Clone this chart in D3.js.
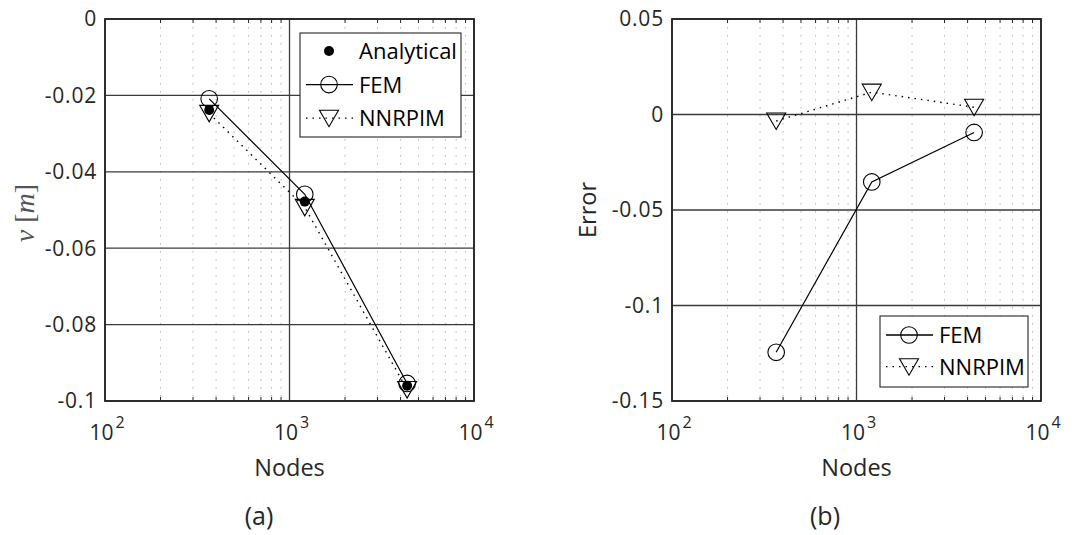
<!DOCTYPE html>
<html>
<head>
<meta charset="utf-8">
<script src="https://cdn.jsdelivr.net/npm/d3@7"></script>
<style>
  body { margin: 0; background: #fff; }
  svg { display: block; }
</style>
</head>
<body>
<div id="chart"></div>
<script>
const nodes = [367, 1210, 4340]
const analytical = [-0.0238, -0.0478, -0.0960]
const femDisp = [-0.0209, -0.0459, -0.0954]
const nnrpimDisp = [-0.0247, -0.0493, -0.0970]
const femError = [-0.1245, -0.0353, -0.0094]
const nnrpimError = [-0.0034, 0.0117, 0.0038]

const dispTicks = [0, -0.02, -0.04, -0.06, -0.08, -0.1]
const dispTickLabels = ["0", "-0.02", "-0.04", "-0.06", "-0.08", "-0.1"]
const errorTicks = [0.05, 0, -0.05, -0.1, -0.15]
const errorTickLabels = ["0.05", "0", "-0.05", "-0.1", "-0.15"]
const xTicks = [100, 1000, 10000]
const xTickExps = ["2", "3", "4"]

const W = 1080, H = 535
const ink = "#262626"
const font = "'Open Sans', sans-serif"

const svg = d3.select("#chart").append("svg")
  .attr("width", W)
  .attr("height", H)

function triangle(s, x, y) {
  s.append("path")
    .attr("d", `M${x - 9.5},${y - 8}L${x + 9.5},${y - 8}L${x},${y + 8.5}Z`)
    .attr("fill", "none")
    .attr("stroke", "#000")
    .attr("stroke-width", 1.1)
}

function circle(s, x, y) {
  s.append("circle")
    .attr("cx", x).attr("cy", y).attr("r", 8.3)
    .attr("fill", "none")
    .attr("stroke", "#000")
    .attr("stroke-width", 1.1)
}

function dot(s, x, y) {
  s.append("circle")
    .attr("cx", x).attr("cy", y).attr("r", 5)
    .attr("fill", "#000")
}

function drawPanel(opt) {
  const g = svg.append("g")
  const x = d3.scaleLog().domain([100, 10000]).range([opt.left, opt.right])
  const y = d3.scaleLinear().domain(opt.yDomain).range([opt.bottom, opt.top])

  // minor grid (dotted) and minor ticks
  const minors = []
  for (let d = 100; d < 10000; d *= 10) {
    for (let k = 2; k <= 9; k++) minors.push(d * k)
  }
  g.selectAll(".minor").data(minors).enter().append("line")
    .attr("x1", (d) => x(d)).attr("x2", (d) => x(d))
    .attr("y1", opt.top).attr("y2", opt.bottom)
    .attr("stroke", "#b4b4b4")
    .attr("stroke-width", 1)
    .attr("stroke-dasharray", "1.5,6.5")
  g.selectAll(".mtick-b").data(minors).enter().append("line")
    .attr("x1", (d) => x(d)).attr("x2", (d) => x(d))
    .attr("y1", opt.bottom).attr("y2", opt.bottom - 4)
    .attr("stroke", ink)
  g.selectAll(".mtick-t").data(minors).enter().append("line")
    .attr("x1", (d) => x(d)).attr("x2", (d) => x(d))
    .attr("y1", opt.top).attr("y2", opt.top + 4)
    .attr("stroke", ink)

  // major grid
  g.selectAll(".hgrid").data(opt.yTicks).enter().append("line")
    .attr("x1", opt.left).attr("x2", opt.right)
    .attr("y1", (d) => y(d)).attr("y2", (d) => y(d))
    .attr("stroke", "#3a3a3a")
    .attr("stroke-width", 1.3)
  g.selectAll(".vgrid").data(xTicks).enter().append("line")
    .attr("x1", (d) => x(d)).attr("x2", (d) => x(d))
    .attr("y1", opt.top).attr("y2", opt.bottom)
    .attr("stroke", "#3a3a3a")
    .attr("stroke-width", 1.3)

  // frame
  g.append("rect")
    .attr("x", opt.left).attr("y", opt.top)
    .attr("width", opt.right - opt.left)
    .attr("height", opt.bottom - opt.top)
    .attr("fill", "none")
    .attr("stroke", ink)
    .attr("stroke-width", 1.8)

  // y tick labels
  g.selectAll(".ylab").data(opt.yTicks).enter().append("text")
    .attr("x", opt.left - 8)
    .attr("y", (d) => y(d))
    .attr("dy", "0.35em")
    .attr("text-anchor", "end")
    .attr("font-family", font)
    .attr("font-size", 21)
    .attr("letter-spacing", 0.8)
    .attr("fill", ink)
    .text((d, i) => opt.yTickLabels[i])

  // x tick labels 10^n
  const xl = g.selectAll(".xlab").data(xTicks).enter().append("text")
    .attr("x", (d) => x(d) + 2)
    .attr("y", opt.bottom + 39)
    .attr("text-anchor", "middle")
    .attr("font-family", font)
    .attr("font-size", 21)
    .attr("fill", ink)
  xl.append("tspan").text("10")
  xl.append("tspan")
    .attr("dx", 2)
    .attr("dy", -12)
    .attr("font-size", 16)
    .text((d, i) => xTickExps[i])

  g.append("text")
    .attr("x", x(1000))
    .attr("y", opt.bottom + 75)
    .attr("text-anchor", "middle")
    .attr("font-family", font)
    .attr("font-size", 23.5)
    .attr("fill", ink)
    .text("Nodes")

  g.append("text")
    .attr("x", opt.captionX)
    .attr("y", 525)
    .attr("text-anchor", "middle")
    .attr("font-family", font)
    .attr("font-size", 25)
    .attr("fill", ink)
    .text(opt.caption)

  // series
  const solid = d3.line().x((d) => x(d[0])).y((d) => y(d[1]))
  const femPts = nodes.map((n, i) => [n, opt.fem[i]])
  const nnPts = nodes.map((n, i) => [n, opt.nnrpim[i]])

  g.append("path")
    .attr("d", solid(nnPts))
    .attr("fill", "none")
    .attr("stroke", "#000")
    .attr("stroke-width", 1.4)
    .attr("stroke-dasharray", "1.5,5")
  g.append("path")
    .attr("d", solid(femPts))
    .attr("fill", "none")
    .attr("stroke", "#000")
    .attr("stroke-width", 1.2)

  femPts.forEach((p) => circle(g, x(p[0]), y(p[1])))
  nnPts.forEach((p) => triangle(g, x(p[0]), y(p[1])))
  if (opt.analytical) {
    nodes.forEach((n, i) => dot(g, x(n), y(opt.analytical[i])))
  }

  return { g, x, y }
}

function drawLegend(items, box) {
  const g = svg.append("g")
  g.append("rect")
    .attr("x", box.x).attr("y", box.y)
    .attr("width", box.w).attr("height", box.h)
    .attr("fill", "#fff")
    .attr("stroke", ink)
    .attr("stroke-width", 1.1)
  items.forEach((it, i) => {
    const cy = box.y + box.first + i * box.step
    const mx = box.x + 29
    if (it.line) {
      g.append("line")
        .attr("x1", box.x + 6).attr("x2", box.x + 53)
        .attr("y1", cy).attr("y2", cy)
        .attr("stroke", "#000")
        .attr("stroke-width", 1.3)
        .attr("stroke-dasharray", it.line === "dot" ? "1.5,5" : null)
    }
    if (it.marker === "circle") circle(g, mx, cy)
    if (it.marker === "triangle") triangle(g, mx, cy)
    if (it.marker === "dot") dot(g, mx, cy)
    g.append("text")
      .attr("x", box.x + 59)
      .attr("y", cy)
      .attr("dy", "0.36em")
      .attr("font-family", font)
      .attr("font-size", 22)
      .attr("fill", "#000")
      .text(it.label)
  })
}

drawPanel({
  left: 105, right: 474, top: 19, bottom: 401,
  yDomain: [-0.1, 0], yTicks: dispTicks, yTickLabels: dispTickLabels,
  fem: femDisp, nnrpim: nnrpimDisp, analytical: analytical,
  caption: "(a)", captionX: 259
})

drawPanel({
  left: 672, right: 1041, top: 19, bottom: 401,
  yDomain: [-0.15, 0.05], yTicks: errorTicks, yTickLabels: errorTickLabels,
  fem: femError, nnrpim: nnrpimError, analytical: null,
  caption: "(b)", captionX: 825
})

drawLegend([
  { label: "Analytical", marker: "dot", line: null },
  { label: "FEM", marker: "circle", line: "solid" },
  { label: "NNRPIM", marker: "triangle", line: "dot" }
], { x: 300, y: 33, w: 161, h: 104, first: 18, step: 33.6 })

drawLegend([
  { label: "FEM", marker: "circle", line: "solid" },
  { label: "NNRPIM", marker: "triangle", line: "dot" }
], { x: 880, y: 316, w: 148, h: 71, first: 19, step: 31.7 })

// y axis titles
const vLabel = svg.append("text")
  .attr("transform", "translate(34,213) rotate(-90)")
  .attr("text-anchor", "middle")
  .attr("font-family", "'Liberation Serif', serif")
  .attr("font-size", 28)
  .attr("fill", "#555")
vLabel.append("tspan").attr("font-style", "italic").text("v")
vLabel.append("tspan").text(" [")
vLabel.append("tspan").attr("font-style", "italic").text("m")
vLabel.append("tspan").text("]")

svg.append("text")
  .attr("transform", "translate(596,210) rotate(-90)")
  .attr("text-anchor", "middle")
  .attr("font-family", font)
  .attr("font-size", 23.5)
  .attr("fill", ink)
  .text("Error")
</script>
</body>
</html>
